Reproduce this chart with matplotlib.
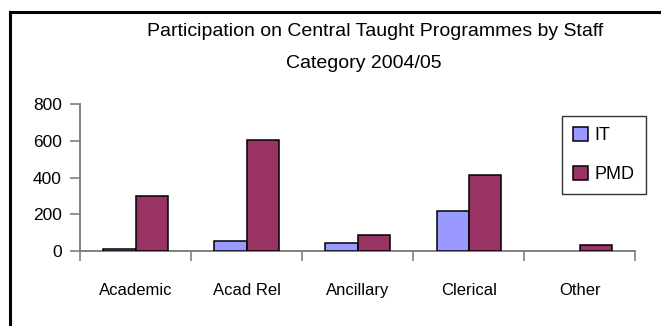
import matplotlib
matplotlib.use("Agg")
import matplotlib.pyplot as plt
import numpy as np
from matplotlib.lines import Line2D
from matplotlib.patches import Patch

plt.rcParams['font.family'] = ['Liberation Sans', 'DejaVu Sans']

categories = ["Academic", "Acad Rel", "Ancillary", "Clerical", "Other"]
it_values = [11, 51, 42, 217, 0]
pmd_values = [297, 605, 84, 412, 33]
y_ticks = [0, 200, 400, 600, 800]
series_names = ["IT", "PMD"]
title_lines = ["Participation on Central Taught Programmes by Staff", "Category 2004/05"]

IT_COLOR = "#9999FF"
PMD_COLOR = "#993366"
AXIS_GRAY = "#808080"

W, H = 661, 326
fig = plt.figure(figsize=(W / 100, H / 100), dpi=100)

# outer chart frame (top and left edges)
fig.add_artist(Line2D([10 / W, 10 / W], [0, 1 - 12 / H], transform=fig.transFigure,
                      color="black", lw=2.2, solid_capstyle="projecting"))
fig.add_artist(Line2D([10 / W, 1], [1 - 12 / H, 1 - 12 / H], transform=fig.transFigure,
                      color="black", lw=2.2, solid_capstyle="projecting"))

ax = fig.add_axes([80 / W, (H - 250.7) / H, 555.3 / W, 146.4 / H])

x = np.arange(len(categories))
bw = 0.29
# bars with a zero value get no outline
it_lw = [1.1 if v > 0 else 0 for v in it_values]
pmd_lw = [1.1 if v > 0 else 0 for v in pmd_values]
ax.bar(x - bw / 2, it_values, bw, color=IT_COLOR, edgecolor="black", linewidth=it_lw, zorder=3)
ax.bar(x + bw / 2, pmd_values, bw, color=PMD_COLOR, edgecolor="black", linewidth=pmd_lw, zorder=3)

ax.set_xlim(-0.5, len(categories) - 0.5)
ax.set_ylim(0, 800)
ax.set_yticks(y_ticks)
ax.set_yticklabels([str(v) for v in y_ticks], fontsize=12.5)

# category labels centred, tick marks at category boundaries
ax.set_xticks(x)
ax.set_xticklabels(categories, fontsize=12)
ax.tick_params(axis="x", which="major", length=0, pad=23)
ax.set_xticks(np.arange(-0.5, len(categories)), minor=True)
ax.tick_params(axis="x", which="minor", length=7, color=AXIS_GRAY, width=1.2, direction="out")
ax.tick_params(axis="y", length=7, color=AXIS_GRAY, width=1.2, direction="out", pad=6)

for s in ["top", "right"]:
    ax.spines[s].set_visible(False)
for s in ["left", "bottom"]:
    ax.spines[s].set_color(AXIS_GRAY)
    ax.spines[s].set_linewidth(1.4)

# title as two centred lines
fig.text(375 / W, 1 - 32 / H, title_lines[0], ha="center", va="center", fontsize=14)
fig.text(364 / W, 1 - 64 / H, title_lines[1], ha="center", va="center", fontsize=14)

handles = [Patch(facecolor=IT_COLOR, edgecolor="black", linewidth=1.1),
           Patch(facecolor=PMD_COLOR, edgecolor="black", linewidth=1.1)]
leg = fig.legend(handles, series_names, loc="upper left",
                 bbox_to_anchor=(562.3 / W, 1 - 115.7 / H), fontsize=13,
                 frameon=True, fancybox=False, handlelength=0.85, handleheight=0.85,
                 handletextpad=0.35, labelspacing=1.2, borderpad=0.6, borderaxespad=0)
leg.get_frame().set_edgecolor("black")
leg.get_frame().set_linewidth(1.0)

fig.savefig("out.png", dpi=100, facecolor="white")
